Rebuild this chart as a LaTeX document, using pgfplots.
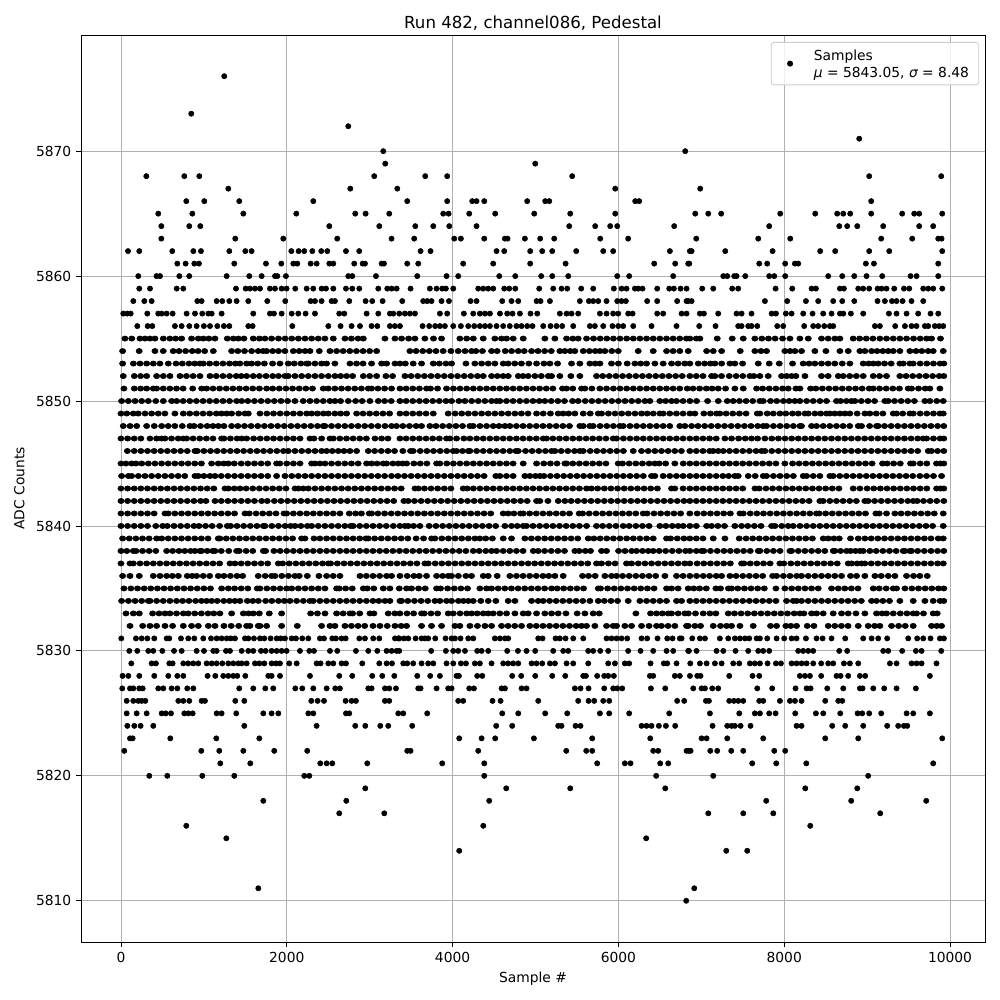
\documentclass[border=0pt]{standalone}
\usepackage{fontspec}
\setmainfont{DejaVu Sans}
\usepackage{pgfplots}
\pgfplotsset{compat=1.18}
\definecolor{gridc}{HTML}{B0B0B0}
\definecolor{legc}{HTML}{CCCCCC}
% Values. Outlying rows: dots read one by one.
% Dense rows (about 5832-5856): samples overlap, so x positions are estimates along the visible runs.
\newcommand{\plotrow}[3]{%
  \gdef\acc{}%
  \foreach \xv in {#3}{\xdef\acc{\acc(\xv,#2)}}%
  \edef\tmp{\noexpand\addplot[only marks,mark=*,mark size=1.9pt,mark options={fill=black,draw=none,xscale=#1},forget plot] coordinates {\acc};}\tmp}
\newcommand{\samplerow}[2]{\plotrow{1}{#1}{#2}}
\newcommand{\denserow}[2]{\plotrow{1.19}{#1}{#2}}
\begin{document}
\begin{tikzpicture}[x=1in,y=1in]
\path[use as bounding box] (0,0) rectangle (10,10);
\begin{axis}[
  at={(0.81in,0.58in)},anchor=south west,
  scale only axis,width=9.04in,height=9.07in,
  xmin=-482,xmax=10422,ymin=5806.7,ymax=5879.3,
  xtick={0,2000,4000,6000,8000,10000},
  ytick={5810,5820,5830,5840,5850,5860,5870},
  scaled x ticks=false,scaled y ticks=false,
  /pgf/number format/1000 sep={},
  /pgf/number format/assume math mode=true,
  tick align=outside,tick pos=left,major tick length=3.5pt,
  every tick/.style={black,line width=.6pt},
  axis line style={line width=.6pt},
  grid=major,major grid style={gridc,line width=.6pt},
  title={\fontsize{12}{14}\selectfont Run 482, channel086, Pedestal},
  title style={yshift=-0.09in},
  xlabel={Sample \#},ylabel={ADC Counts},
  ylabel style={yshift=0.02in},
  legend cell align=left,
  legend style={at={(0.9935,0.9923)},anchor=north east,draw=legc,rounded corners=2pt,fill=white,fill opacity=0.8,text opacity=1,line width=.6pt,inner xsep=5pt,inner ysep=3pt},
]
\addlegendimage{legend image code/.code={\path[draw=none,fill=none] (0,-2pt) rectangle (0.33in,2pt);\fill[black,draw=none,fill opacity=1] (0.12in,0) circle[radius=2.2pt];}}
\addlegendentry{\begin{tabular}{@{}l@{}}Samples\\{\itshape μ} = 5843.05, {\itshape σ} = 8.48\rule[-13pt]{0pt}{0pt}\end{tabular}}
\samplerow{5876}{1246}
\samplerow{5873}{848}
\samplerow{5872}{2742}
\samplerow{5871}{8905}
\samplerow{5870}{3164,6806}
\samplerow{5869}{3188,4997}
\samplerow{5868}{306,764,945,3055,3670,3935,5443,9025,9894}
\samplerow{5867}{1295,2766,3333,5962,6987}
\samplerow{5866}{788,1005,1427,2320,3453,3935,4237,4289,4382,4900,5117,5166,6203,6251,9049}
\samplerow{5865}{450,861,1476,2115,2826,2951,3236,3887,3952,4201,4514,4985,5419,5962,6927,7084,7240,7952,8374,8639,8712,8796,9049,9423,9568,9628,9906}
\samplerow{5864}{487,824,957,2513,3116,3550,3767,3960,4289,5407,5720,5901,5986,6673,7819,8664,8760,8881,9194,9628,9797}
\samplerow{5863}{487,1379,1958,2609,3264,3537,4020,4100,4382,4631,4663,4872,5057,5226,5781,6118,6939,7687,8073,9170,9544,9858,9898}
\samplerow{5862}{85,221,619,873,965,1307,1500,1576,2055,2143,2211,2308,2416,2489,2714,2874,3614,3734,4530,4623,4936,5081,5202,5491,5817,5937,6621,6862,6883,7289,7860,8434,8615,9025,9267,9906}
\samplerow{5861}{680,780,885,941,1367,1749,1934,2079,2127,2288,2360,2513,2561,2814,2915,2943,3144,3172,3453,3586,4128,4490,4936,5363,6432,6685,6842,6855,7699,7795,8012,8129,8169,8985,9082,9858}
\samplerow{5860}{209,430,471,704,824,1275,1548,1697,1858,1886,1990,2742,2790,3076,3574,3927,4068,4563,4756,5069,5202,5395,5986,6130,6661,7265,7313,7397,7425,7530,7819,7880,8012,8531,8700,8845,8993,9182,9524,9596,9858}
\samplerow{5859}{221,350,672,752,1387,1504,1556,1616,1677,1797,1858,1938,1998,2103,2240,2320,2420,2473,2561,2714,2790,2875,3104,3212,3265,3325,3493,3726,3807,3875,3919,4008,4309,4370,4430,4490,4623,4683,4756,5045,5214,5314,5383,5551,5696,5945,6038,6098,6199,6239,6291,6468,6613,6669,6750,6822,7011,7144,7373,7445,7896,8097,8330,8382,8672,8720,8893,8953,9025,9126,9174,9234,9327,9444,9508,9677,9737,9797,9906}
\samplerow{5858}{149,282,370,921,973,1154,1222,1307,1395,1536,1765,1982,2288,2340,2420,2541,2581,2754,2951,3031,3156,3393,3646,3694,3746,3867,3956,4217,4289,4599,4711,4792,5013,5061,5174,5535,5644,5696,5757,5857,5986,6038,6090,6347,6468,6709,6822,6842,6883,7767,8036,8262,8410,8591,8700,8845,9126,9214,9300,9355,9428,9536,9677}
\samplerow{5857}{28,77,117,318,450,491,551,623,792,893,981,1054,1094,1214,1596,1797,1845,1938,2059,2139,2227,2340,2633,2694,2963,3104,3244,3285,3357,3425,3485,3546,3847,3935,4136,4249,4329,4390,4450,4571,4659,4723,4812,4940,5021,5294,5375,5435,5515,5777,5857,5937,5998,6118,6171,6468,6540,6762,6822,6983,7031,7204,7425,7486,7606,7848,7900,8020,8089,8229,8342,8470,8571,8672,8712,8804,8953,9263,9355,9476,9616,9765,9858}
\samplerow{5856}{197,322,378,651,732,824,913,1000,1074,1162,1242,1307,1536,1588,2067,2501,2649,2782,2883,3023,3092,3244,3304,3365,3638,3718,3790,3847,3907,4008,4100,4189,4261,4329,4390,4450,4530,4610,4690,4770,4832,4900,4964,5093,5182,5254,5322,5455,5656,5716,5817,5929,5998,6058,6179,6400,6701,6975,7172,7445,7486,7566,7606,7675,7916,7988,8241,8350,8410,8483,8551,8591,9094,9154,9339,9456,9536,9596,9697,9737,9817,9870,9918}
\denserow{5855}{48,130,229,290,350,410,511,590,660,732,852,933,993,1060,1134,1283,1355,1415,1484,1596,1670,1737,1817,1900,1980,2060,2140,2220,2300,2380,2460,2561,2702,2780,2860,2923,3184,3305,3385,3470,3546,3666,3770,3867,4088,4170,4250,4370,4510,4590,4651,4731,4852,5113,5234,5375,5450,5515,5616,5700,5780,5860,5940,6020,6100,6180,6260,6340,6420,6500,6580,6660,6740,6820,6862,6940,6983,7192,7373,7506,7646,7730,7810,7890,7980,8069,8189,8290,8450,8530,8611,8672,8832,8910,8990,9070,9154,9234,9315,9395,9476,9560,9640,9717,9777,9885}
\denserow{5854}{20,220,410,510,630,700,780,860,930,1010,1114,1335,1410,1490,1576,1656,1716,1757,1830,1900,1978,2079,2150,2220,2280,2392,2521,2601,2680,2760,2840,2920,3000,3084,3485,3560,3640,3720,3800,3887,3980,4068,4150,4229,4281,4360,4470,4538,4635,4711,4792,4864,4953,5030,5110,5190,5294,5354,5420,5475,5576,5650,5720,5777,5837,5920,5998,6239,6420,6581,6660,6741,6842,7064,7144,7245,7470,7646,7720,7787,8008,8070,8129,8209,8370,8503,8672,8772,8913,8973,9054,9120,9190,9255,9315,9395,9516,9590,9660,9737,9797,9918}
\denserow{5853}{20,150,230,310,390,470,571,664,740,820,890,953,993,1070,1150,1230,1310,1380,1435,1516,1576,1650,1730,1829,1918,2018,2090,2170,2240,2260,2340,2420,2480,2580,2762,2842,2920,3023,3144,3204,3305,3365,3430,3525,3626,3767,3840,3920,3988,4161,4269,4350,4430,4510,4611,4671,4750,4830,4920,5013,5101,5174,5266,5435,5535,5656,5720,5777,5917,6000,6106,6199,6270,6340,6440,6540,6641,6720,6800,6862,6963,7040,7110,7164,7245,7345,7405,7498,7687,7819,7940,8101,8229,8300,8370,8450,8530,8610,8700,8792,8953,9020,9074,9134,9210,9290,9395,9436,9516,9556,9640,9720,9800,9880,9925}
\denserow{5852}{28,161,237,310,430,511,591,712,790,870,953,1074,1150,1230,1310,1390,1450,1516,1596,1670,1750,1830,1900,1978,2018,2099,2180,2260,2340,2420,2501,2581,2650,2722,2794,2923,3000,3084,3196,3276,3425,3500,3580,3660,3740,3820,3900,3980,4060,4140,4220,4300,4370,4470,4540,4610,4671,4792,4850,4912,4993,5070,5154,5194,5294,5427,5535,5736,5810,5890,5970,6050,6130,6210,6290,6370,6450,6530,6610,6690,6770,6862,6940,7020,7124,7164,7244,7337,7420,7500,7586,7634,7707,7807,7968,8030,8089,8141,8250,8450,8530,8652,8712,8790,8870,8953,9074,9150,9234,9395,9470,9550,9630,9710,9790,9870,9925}
\denserow{5851}{36,161,237,310,390,430,510,590,670,750,865,973,1033,1110,1190,1270,1350,1430,1510,1590,1670,1757,1830,1910,1990,2070,2150,2230,2310,2440,2501,2580,2660,2740,2820,2900,2983,3023,3100,3180,3264,3365,3440,3520,3600,3686,3734,3819,3927,4010,4090,4170,4250,4330,4410,4490,4570,4650,4730,4810,4890,4970,5050,5130,5210,5326,5375,5450,5556,5596,5680,5777,5857,5940,6020,6100,6180,6260,6340,6420,6500,6580,6660,6740,6830,6900,6980,7060,7130,7204,7293,7405,7506,7667,7740,7820,7900,7980,8048,8141,8190,8318,8382,8460,8540,8620,8700,8780,8860,8940,9025,9074,9150,9230,9310,9390,9496,9536,9620,9700,9757,9878}
\denserow{5850}{8,89,170,250,330,420,511,611,672,750,830,910,990,1070,1150,1230,1310,1395,1456,1530,1610,1690,1770,1850,1930,2010,2099,2199,2280,2360,2440,2521,2581,2649,2742,2830,2910,3003,3104,3180,3260,3365,3440,3520,3600,3680,3760,3840,3920,3988,4076,4149,4230,4310,4390,4470,4530,4571,4650,4730,4810,4890,4970,5045,5113,5190,5270,5350,5447,5515,5600,5680,5760,5840,5920,6000,6080,6160,6240,6320,6380,6500,6570,6641,6701,6780,6862,6943,7076,7204,7313,7385,7460,7540,7620,7707,7747,7835,7910,7990,8060,8129,8189,8270,8350,8430,8510,8631,8680,8750,8812,8853,8930,9010,9090,9214,9255,9330,9410,9490,9570,9697,9757,9840,9918}
\denserow{5849}{0,70,149,209,290,370,450,530,651,752,830,910,990,1070,1150,1214,1275,1335,1420,1496,1536,1677,1760,1840,1920,2000,2080,2160,2240,2300,2370,2440,2501,2580,2650,2722,2843,2920,3000,3080,3160,3240,3365,3440,3520,3600,3680,3767,3947,4030,4110,4190,4270,4350,4430,4510,4591,4671,4752,4830,4910,5013,5093,5180,5274,5334,5400,5475,5576,5660,5757,5797,5880,5960,6040,6120,6200,6279,6347,6420,6500,6540,6620,6700,6780,6862,6923,7031,7110,7184,7224,7300,7380,7460,7540,7675,7707,7795,7868,7948,8020,8100,8170,8250,8290,8370,8440,8511,8551,8610,8672,8732,8792,8880,8973,9033,9110,9190,9315,9355,9430,9516,9556,9640,9720,9800,9878,9918}
\denserow{5848}{28,110,190,310,402,491,570,650,740,832,881,960,1040,1110,1174,1242,1335,1410,1490,1570,1650,1730,1810,1890,1970,2050,2130,2210,2290,2370,2440,2460,2540,2620,2700,2780,2860,2940,3020,3100,3184,3264,3324,3400,3480,3560,3626,3726,3800,3880,3960,4040,4120,4209,4249,4330,4410,4490,4560,4631,4691,4770,4850,4930,5010,5090,5170,5250,5330,5410,5535,5576,5656,5696,5780,5860,5940,6018,6058,6140,6220,6300,6380,6460,6540,6620,6741,6802,6883,6960,7040,7120,7200,7280,7360,7440,7520,7600,7680,7747,7787,7870,7950,8030,8110,8190,8209,8330,8390,8470,8550,8630,8710,8790,8893,8933,9030,9114,9134,9210,9290,9370,9450,9530,9610,9690,9770,9850,9925}
\denserow{5847}{0,80,160,240,350,430,490,531,610,690,752,792,870,950,1030,1110,1214,1242,1320,1400,1456,1516,1600,1680,1760,1840,1920,2000,2080,2160,2280,2328,2420,2521,2561,2640,2720,2800,2880,2960,3064,3144,3220,3365,3440,3520,3600,3680,3760,3840,3927,3968,4048,4136,4209,4290,4370,4450,4530,4610,4690,4770,4850,4930,5010,5093,5133,5210,5290,5370,5450,5530,5610,5690,5770,5850,5937,5977,6060,6140,6220,6300,6380,6460,6540,6620,6700,6780,6862,6940,7020,7100,7180,7285,7365,7450,7530,7606,7679,7767,7850,7930,8010,8090,8170,8250,8330,8410,8490,8570,8650,8730,8810,8890,8970,9050,9130,9210,9290,9370,9450,9530,9610,9677,9717,9800,9880,9925}
\denserow{5846}{77,160,240,320,400,480,560,640,720,800,893,921,1000,1080,1160,1240,1320,1400,1480,1560,1640,1720,1800,1880,1960,2018,2099,2180,2260,2340,2420,2481,2549,2621,2690,2762,2843,2983,3060,3140,3220,3300,3400,3493,3525,3610,3690,3770,3850,3930,4008,4048,4120,4189,4209,4290,4370,4450,4530,4610,4690,4764,4792,4880,4960,5040,5120,5194,5234,5310,5390,5470,5535,5576,5660,5740,5820,5900,5980,6060,6179,6279,6360,6440,6520,6600,6680,6760,6862,6940,7020,7100,7144,7204,7265,7340,7420,7500,7580,7660,7727,7767,7850,7930,8010,8090,8170,8250,8330,8410,8490,8570,8650,8730,8810,8890,8970,9050,9130,9210,9290,9370,9450,9530,9610,9737,9777,9850,9925}
\denserow{5845}{0,60,129,181,250,330,410,490,570,650,730,810,890,970,1094,1174,1240,1295,1367,1450,1530,1610,1690,1770,1878,1918,2000,2080,2160,2300,2340,2400,2461,2540,2620,2700,2780,2860,2963,3023,3090,3164,3204,3280,3345,3397,3445,3533,3610,3690,3807,3847,3930,4010,4090,4170,4250,4330,4410,4490,4570,4650,4730,4852,5013,5100,5180,5260,5354,5375,5450,5530,5610,5690,5770,5850,5998,6050,6130,6210,6290,6370,6440,6492,6570,6681,6782,6862,6940,7020,7100,7180,7260,7340,7420,7500,7580,7660,7740,7820,7900,8008,8101,8180,8260,8340,8420,8500,8580,8660,8740,8820,8900,8980,9060,9186,9242,9320,9400,9524,9556,9640,9720,9837,9886,9925}
\denserow{5844}{8,89,129,210,290,370,450,530,610,690,770,893,933,1000,1074,1134,1210,1290,1370,1450,1530,1610,1690,1770,1878,1978,2060,2140,2220,2300,2380,2460,2540,2620,2700,2780,2860,2940,3020,3100,3180,3264,3340,3420,3500,3580,3660,3740,3820,3900,3980,4060,4140,4220,4300,4380,4522,4571,4650,4730,4872,4932,5000,5053,5101,5180,5260,5340,5420,5500,5580,5660,5740,5820,5900,5980,6060,6140,6220,6300,6400,6440,6540,6620,6700,6780,6862,6940,7020,7100,7180,7260,7330,7405,7445,7566,7650,7747,7787,7870,7950,8030,8110,8229,8270,8350,8430,8551,8591,8670,8750,8830,8910,8990,9070,9150,9230,9310,9390,9470,9550,9636,9717,9800,9898}
\denserow{5843}{0,80,160,240,320,400,480,560,640,720,800,880,960,1040,1120,1255,1295,1367,1436,1510,1590,1670,1750,1830,1910,1990,2099,2139,2199,2260,2340,2420,2500,2580,2660,2740,2820,2900,2980,3060,3140,3220,3300,3380,3546,3586,3660,3740,3820,3900,3980,4128,4177,4250,4330,4410,4490,4570,4650,4730,4810,4890,4970,5050,5130,5210,5290,5370,5450,5530,5616,5676,5750,5830,5910,5990,6070,6150,6230,6310,6390,6470,6641,6681,6780,6862,6940,7020,7100,7180,7260,7340,7420,7500,7647,7699,7780,7860,7940,8020,8100,8180,8260,8340,8420,8500,8580,8660,8832,8913,9000,9080,9160,9240,9320,9400,9480,9560,9640,9720,9838,9886,9925}
\denserow{5842}{0,80,160,240,320,400,480,560,640,720,800,880,960,1025,1134,1210,1290,1370,1450,1530,1610,1697,1765,1850,1930,2010,2090,2170,2250,2330,2410,2490,2570,2650,2730,2810,2890,2970,3050,3130,3210,3290,3413,3465,3540,3620,3700,3780,3860,3940,4020,4100,4180,4260,4340,4420,4500,4580,4660,4740,4820,4900,5013,5053,5150,5274,5354,5430,5510,5590,5670,5750,5830,5910,5990,6070,6150,6230,6310,6390,6470,6550,6630,6710,6790,6862,6940,7020,7100,7180,7260,7340,7420,7500,7580,7660,7740,7820,7900,7980,8060,8140,8220,8300,8430,8470,8550,8630,8710,8790,8870,8973,9013,9090,9170,9250,9330,9410,9490,9556,9604,9680,9760,9840,9925}
\denserow{5841}{0,80,160,240,320,400,531,571,650,730,810,890,970,1050,1130,1210,1290,1370,1496,1548,1630,1710,1790,1870,1966,1998,2080,2160,2240,2320,2400,2480,2560,2641,2754,2830,2900,2995,3023,3100,3180,3260,3340,3420,3500,3580,3660,3740,3820,3900,3980,4060,4140,4220,4300,4380,4460,4611,4671,4740,4820,4852,4930,5010,5090,5170,5250,5330,5410,5527,5568,5648,5730,5810,5890,5970,6050,6130,6210,6299,6347,6430,6510,6590,6670,6750,6862,6950,7030,7110,7190,7270,7350,7466,7506,7590,7670,7750,7830,7910,7990,8070,8150,8230,8310,8390,8422,8500,8580,8660,8740,8820,8900,8980,9106,9146,9234,9335,9410,9490,9570,9650,9730,9810,9918}
\denserow{5840}{0,80,160,240,320,420,503,559,640,720,800,881,941,1020,1100,1190,1283,1323,1400,1480,1560,1640,1717,1737,1820,1900,1980,2047,2099,2170,2248,2300,2380,2460,2540,2620,2700,2770,2802,2880,2960,3040,3120,3200,3285,3365,3425,3465,3530,3606,3718,3799,3880,3960,4040,4120,4200,4280,4360,4440,4520,4631,4711,4780,4852,4892,4970,5050,5130,5210,5290,5370,5450,5530,5616,5736,5810,5890,5970,6058,6130,6210,6290,6370,6500,6573,6650,6721,6782,6862,6940,7064,7124,7200,7280,7405,7486,7560,7640,7720,7848,7888,7970,8048,8109,8190,8270,8350,8430,8510,8590,8670,8750,8830,8910,8990,9070,9150,9230,9310,9390,9470,9550,9630,9710,9790,9918}
\denserow{5839}{20,100,180,260,340,430,491,570,650,730,810,890,970,1050,1174,1194,1270,1350,1430,1510,1590,1670,1750,1830,1910,1990,2070,2179,2219,2328,2400,2480,2560,2640,2720,2800,2880,2955,2983,3060,3140,3220,3300,3380,3460,3560,3650,3747,3787,3870,3950,4030,4110,4190,4269,4329,4400,4480,4611,4711,4872,4950,5030,5110,5190,5270,5350,5430,5510,5636,5704,5780,5860,5940,6020,6100,6180,6260,6340,6420,6581,6629,6710,6790,6862,6940,7020,7144,7285,7458,7540,7620,7700,7780,7860,7940,8020,8100,8180,8260,8340,8471,8531,8600,8664,8800,8893,8973,9050,9130,9210,9290,9370,9450,9530,9610,9690,9770,9858,9918}
\denserow{5838}{0,70,149,181,260,340,420,551,623,700,770,840,893,953,973,1040,1106,1134,1210,1300,1395,1427,1510,1590,1717,1745,1845,1920,2000,2080,2160,2240,2320,2400,2480,2560,2640,2720,2800,2880,2960,3040,3120,3200,3280,3360,3440,3520,3600,3680,3760,3840,3920,4000,4080,4160,4249,4321,4400,4470,4530,4610,4690,4770,4850,4973,5033,5110,5190,5270,5350,5475,5527,5600,5664,5797,5857,6002,6080,6160,6219,6291,6360,6420,6492,6570,6650,6730,6810,6862,6940,7003,7031,7110,7192,7273,7350,7430,7510,7590,7687,7707,7790,7870,7950,8069,8089,8170,8250,8330,8410,8490,8591,8611,8680,8752,8800,8860,8913,8953,9033,9110,9190,9270,9350,9435,9456,9516,9536,9610,9690,9770,9850,9925}
\denserow{5837}{0,109,149,230,310,390,470,550,630,710,790,870,950,1030,1110,1190,1315,1375,1450,1530,1610,1690,1770,1898,1950,2030,2110,2190,2270,2350,2430,2501,2529,2610,2690,2770,2850,2930,3010,3090,3170,3250,3330,3410,3490,3570,3666,3706,3790,3870,3950,4030,4110,4190,4270,4350,4430,4510,4590,4670,4750,4832,4912,4990,5070,5150,5230,5310,5390,5470,5550,5630,5736,5797,5880,5960,6098,6159,6240,6320,6400,6480,6560,6640,6720,6800,6862,6950,7030,7110,7190,7270,7350,7486,7514,7590,7670,7750,7830,7948,7996,8080,8160,8240,8320,8400,8480,8560,8640,8772,8812,8880,8933,8973,9050,9130,9210,9290,9370,9450,9530,9610,9690,9770,9850,9918}
\denserow{5836}{20,109,221,390,471,551,620,692,800,860,913,993,1070,1174,1242,1320,1400,1468,1656,1740,1817,1858,1940,2020,2099,2151,2248,2388,2481,2560,2641,2883,2960,3040,3120,3204,3264,3365,3453,3533,3598,3686,3807,3880,3948,3988,4070,4161,4229,4370,4430,4538,4691,4770,4850,4930,5010,5090,5160,5234,5334,5568,5640,5720,5837,5917,5978,6050,6130,6210,6290,6370,6450,6561,6701,6780,6862,6943,7023,7100,7180,7245,7345,7420,7500,7580,7660,7740,7860,7908,7990,8070,8150,8209,8290,8370,8450,8530,8610,8692,8800,8873,8973,9094,9170,9255,9335,9476,9560,9636,9725}
\denserow{5835}{36,120,200,280,360,440,520,599,680,760,840,920,1000,1080,1214,1295,1370,1450,1530,1644,1677,1760,1840,1920,1998,2059,2140,2220,2300,2380,2460,2601,2633,2710,2790,2923,2971,3050,3164,3244,3357,3445,3505,3590,3670,3807,3855,3940,4020,4100,4180,4329,4410,4470,4550,4630,4710,4790,4870,4950,5030,5110,5194,5262,5340,5420,5500,5580,5757,5785,5870,5950,6030,6110,6190,6270,6350,6430,6581,6641,6720,6842,6910,6980,7060,7176,7232,7327,7365,7440,7520,7600,7680,7760,7900,8008,8090,8170,8250,8330,8410,8571,8652,8730,8810,8890,9074,9146,9230,9315,9355,9456,9540,9620,9700,9780,9860,9925}
\denserow{5834}{8,90,170,250,330,350,430,510,590,671,744,820,900,970,1033,1094,1162,1240,1310,1375,1435,1524,1590,1657,1745,1820,1900,1970,2038,2119,2200,2280,2320,2400,2480,2560,2640,2720,2800,2880,2960,3040,3110,3184,3244,3365,3385,3460,3540,3620,3700,3787,3847,3927,3988,4070,4130,4189,4249,4340,4430,4522,4671,4752,4953,5033,5093,5170,5250,5330,5410,5490,5570,5656,5757,5830,5910,5990,6118,6259,6340,6420,6500,6580,6701,6762,6862,6940,7020,7100,7180,7260,7340,7420,7500,7580,7660,7740,7820,7900,8028,8109,8149,8209,8290,8370,8450,8530,8610,8690,8770,8850,8930,9054,9114,9190,9270,9395,9556,9697,9797,9880,9925}
\denserow{5833}{61,149,221,382,460,531,591,670,752,812,890,970,1050,1120,1194,1335,1476,1540,1596,1669,1789,1938,2288,2370,2461,2601,2680,2762,2794,2880,3003,3051,3224,3304,3365,3450,3530,3626,3658,3740,3820,3947,4008,4090,4170,4229,4297,4370,4430,4490,4570,4651,4752,4852,4912,5013,5113,5194,5274,5367,5503,5596,5696,5769,6211,6388,6460,6530,6601,6641,6721,6802,6843,6930,7023,7104,7176,7325,7400,7480,7560,7640,7720,7800,7880,7960,8040,8120,8190,8237,8330,8390,8470,8591,8692,8772,8865,8973,9114,9180,9234,9315,9400,9480,9556,9596,9680,9797,9845}
\denserow{5832}{109,262,350,430,531,623,752,852,933,1054,1134,1242,1330,1420,1516,1556,1656,1677,1757,1938,2127,2420,2521,2581,2702,2780,2860,2940,3040,3124,3212,3305,3380,3445,3626,3746,3867,4028,4088,4209,4300,4390,4470,4591,4670,4750,4832,4932,5010,5090,5170,5250,5330,5410,5490,5556,5616,5716,5857,5937,5978,6078,6159,6279,6370,6460,6520,6600,6681,6822,6843,6923,6991,7144,7232,7305,7365,7466,7626,7835,7908,8020,8080,8149,8278,8358,8531,8610,8690,8770,8893,9013,9090,9154,9295,9380,9460,9556,9777,9840,9898}
\samplerow{5831}{4,181,250,318,402,551,583,724,812,885,993,1086,1154,1214,1275,1323,1375,1496,1536,1604,1677,1729,1805,1878,1926,1978,2059,2111,2187,2260,2400,2449,2549,2593,2661,2710,2875,2943,3043,3116,3305,3345,3357,3413,3465,3554,3626,3666,3706,3791,3915,3988,4028,4096,4189,4249,4510,4571,4631,4671,5033,5085,5242,5294,5363,5455,5576,5857,5917,5978,6038,6106,6279,6347,6472,6589,6653,6741,6762,6891,6983,7044,7224,7325,7405,7466,7526,7578,7667,7707,7795,7908,8000,8089,8149,8262,8390,8463,8571,8736,8953,9054,9134,9242,9496,9604,9677,9765,9878,9926}
\samplerow{5830}{101,197,330,390,499,640,732,913,1001,1114,1154,1267,1315,1456,1536,1596,1689,1745,1817,1878,1938,1998,2159,2272,2328,2521,2609,2834,2983,3092,3204,3265,3325,3357,3742,3919,4008,4068,4149,4297,4350,4430,4659,4788,4892,4997,5214,5334,5395,5636,5696,5781,5877,6118,6267,6420,6581,6661,6842,6851,6943,7184,7265,7413,7566,7687,7747,7819,8169,8229,8290,8350,8664,8760,9194,9255,9423,9588,9657,9894}
\samplerow{5829}{125,370,422,583,623,752,812,872,933,1033,1094,1154,1222,1295,1355,1415,1456,1516,1616,1669,1729,1817,1870,1918,2030,2119,2360,2408,2501,2561,2661,2714,2911,3116,3204,3269,3405,3453,3525,3626,3706,3767,3927,4008,4100,4161,4269,4329,4470,4611,4671,4731,4792,4953,5013,5081,5174,5234,5375,5455,5636,5877,5958,6078,6130,6388,6548,6589,6701,6867,6983,7064,7164,7245,7385,7458,7586,7646,7707,7799,7900,7960,8089,8149,8209,8270,8350,8446,8531,8591,8720,8792,8893,9275,9355,9536,9596,9657,9837}
\samplerow{5828}{20,89,221,402,571,680,752,1045,1138,1234,1295,1355,1403,1500,1777,1817,1918,2280,2633,2790,3031,3152,3297,3574,3730,3847,4048,4076,4297,4358,4719,4828,4997,5202,5359,5576,5608,5744,5829,5877,5945,6380,6420,6681,6741,6863,6951,6991,7337,7618,7699,8189,8250,8310,8446,8631,8680,8772,8913,8977,9757}
\samplerow{5827}{16,109,149,221,262,450,511,611,680,800,873,1427,1596,1741,1837,2103,2187,2320,2481,2585,2641,2983,3023,3184,3236,3317,3586,3614,3807,3947,3988,4201,4257,4591,4631,4832,4892,5475,5543,5640,5829,5937,5986,6046,6392,6565,6903,7003,7044,7132,7204,7675,7855,8137,8270,8318,8519,8712,8913,8945,9074,9206,9355,9588}
\samplerow{5826}{69,149,209,250,294,692,752,824,973,1013,1379,1488,2296,2372,2449,2710,2782,2834,3184,3236,4068,4128,4482,4579,5033,5515,5640,5708,5817,5889,6709,6794,7056,7092,7337,7393,7446,7506,7699,7747,7948,8069,8129,8209,8495,8652,8700}
\samplerow{5825}{69,189,310,491,539,603,764,812,865,1154,1214,1391,1717,1817,1898,2260,2320,2714,2754,3345,3405,3694,4599,4792,5117,5383,5777,5889,6130,6613,7104,7458,7646,7707,7819,7896,8133,8382,8471,8676,8885,8941,9025,9170,9476,9556,9757}
\samplerow{5824}{77,161,237,390,1488,2360,2826,2947,3128,3224,3513,4526,4719,5274,5314,5483,5543,6279,6339,6400,6488,6573,6685,7136,7313,7365,7405,7474,7594,8149,8209,8579,8736,8953,9242,9375,9444,9484}
\samplerow{5823}{109,141,595,1150,1669,4080,4350,4514,4981,5684,6384,7003,7064,7313,7747,8495,8893,9906}
\samplerow{5822}{40,969,1186,1476,1849,2247,3453,3493,4309,5371,5612,5684,6420,6480,6822,6850,6871,7108,7192,7361,7506,7880,8012}
\samplerow{5821}{1198,1560,2404,2481,2549,2971,3875,4382,5744,6078,6146,6504,6601,7614,7904,8266,9797}
\samplerow{5820}{342,559,981,1367,2211,2272,4382,6456,7144,9013}
\samplerow{5819}{2947,4647,5419,6565,8254,8881}
\samplerow{5818}{1717,2718,4442,7783,8808,9713}
\samplerow{5817}{2633,3176,7084,7506,7868,9158}
\samplerow{5816}{788,4370,8314}
\samplerow{5815}{1271,6335}
\samplerow{5814}{4080,7301,7554}
\samplerow{5811}{1657,6915}
\samplerow{5810}{6818}
\end{axis}
\end{tikzpicture}
\end{document}
